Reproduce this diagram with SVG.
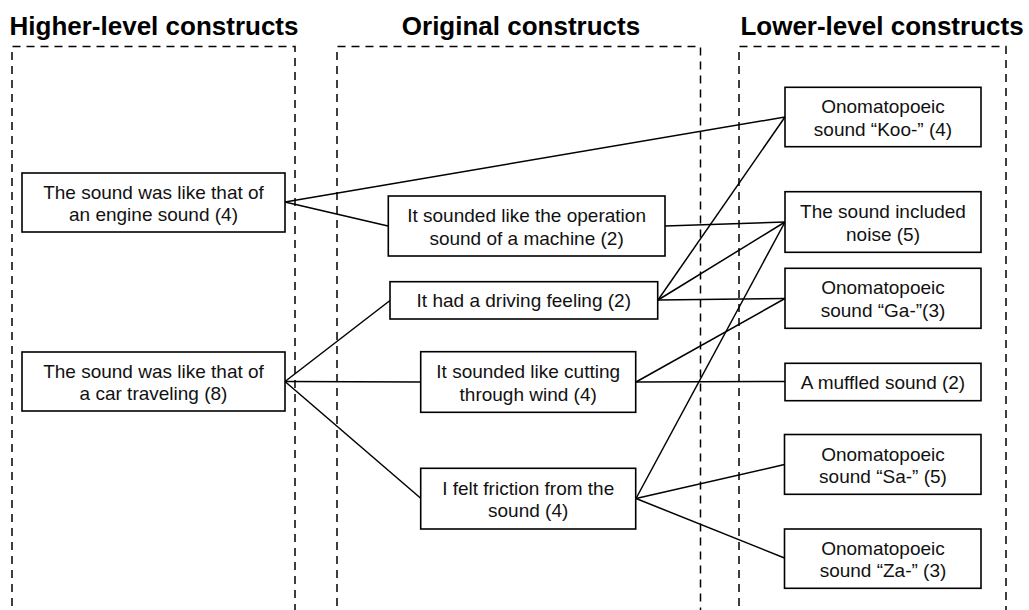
<svg xmlns="http://www.w3.org/2000/svg" width="1029" height="610" viewBox="0 0 1029 610">
<style>
.title{font-family:"Liberation Sans",Arial,sans-serif;font-weight:bold;font-size:26px;fill:#000;text-anchor:middle}
.t{font-family:"Liberation Sans",Arial,sans-serif;font-size:19px;fill:#111;text-anchor:middle}
.box{fill:#fff;stroke:#000;stroke-width:1.6}
.dash{fill:none;stroke:#000;stroke-width:1.5;stroke-dasharray:8,6}
.c{stroke:#000;stroke-width:1.5;fill:none}
</style>
<rect width="1029" height="610" fill="#fff"/>
<g id="columns">
<text class="title" x="154" y="35">Higher-level constructs</text>
<text class="title" x="521" y="35">Original constructs</text>
<text class="title" x="882" y="35">Lower-level constructs</text>
<path class="dash" d="M12,620 V46.5 H295 V620"/>
<path class="dash" d="M337,620 V46.5 H700.5 V620"/>
<path class="dash" d="M739,620 V46.5 H1006 V620"/>
</g>
<g id="connectors">
<line class="c" x1="285" y1="202" x2="785" y2="117"/>
<line class="c" x1="285" y1="202" x2="388" y2="226"/>
<line class="c" x1="285" y1="381.5" x2="390" y2="300.5"/>
<line class="c" x1="285" y1="381.5" x2="421" y2="382"/>
<line class="c" x1="285" y1="381.5" x2="421" y2="498.5"/>
<line class="c" x1="665" y1="226" x2="785" y2="222"/>
<line class="c" x1="658" y1="300" x2="785" y2="117"/>
<line class="c" x1="658" y1="300" x2="785" y2="222"/>
<line class="c" x1="658" y1="300" x2="785" y2="298.5"/>
<line class="c" x1="636" y1="382" x2="785" y2="298.5"/>
<line class="c" x1="636" y1="382" x2="785" y2="381.5"/>
<line class="c" x1="636" y1="498.5" x2="785" y2="222"/>
<line class="c" x1="636" y1="498.5" x2="784.5" y2="464.5"/>
<line class="c" x1="636" y1="498.5" x2="784.5" y2="558"/>
</g>
<g id="h1"><rect class="box" x="22" y="173" width="263" height="59"/>
<text class="t" x="153.5" y="198.5">The sound was like that of</text>
<text class="t" x="153.5" y="221">an engine sound (4)</text></g>
<g id="h2"><rect class="box" x="22" y="352" width="263" height="59"/>
<text class="t" x="153.5" y="377.5">The sound was like that of</text>
<text class="t" x="153.5" y="400">a car traveling (8)</text></g>
<g id="o1"><rect class="box" x="388.3" y="196" width="276.7" height="60"/>
<text class="t" x="526.6" y="222">It sounded like the operation</text>
<text class="t" x="526.6" y="244.5">sound of a machine (2)</text></g>
<g id="o2"><rect class="box" x="390" y="281.7" width="267.7" height="37.3"/>
<text class="t" x="523.8" y="307.3">It had a driving feeling (2)</text></g>
<g id="o3"><rect class="box" x="420.7" y="351.7" width="215" height="60.6"/>
<text class="t" x="528.2" y="378">It sounded like cutting</text>
<text class="t" x="528.2" y="400.5">through wind (4)</text></g>
<g id="o4"><rect class="box" x="420.7" y="468.3" width="215" height="60.7"/>
<text class="t" x="528.2" y="494.5">I felt friction from the</text>
<text class="t" x="528.2" y="517">sound (4)</text></g>
<g id="l1"><rect class="box" x="785" y="87.3" width="196" height="59.4"/>
<text class="t" x="883" y="113">Onomatopoeic</text>
<text class="t" x="883" y="135.5">sound “Koo-” (4)</text></g>
<g id="l2"><rect class="box" x="785" y="191.7" width="196" height="60.6"/>
<text class="t" x="883" y="218">The sound included</text>
<text class="t" x="883" y="240.5">noise (5)</text></g>
<g id="l3"><rect class="box" x="785" y="268.3" width="196" height="60"/>
<text class="t" x="883" y="294.3">Onomatopoeic</text>
<text class="t" x="883" y="316.8">sound “Ga-”(3)</text></g>
<g id="l4"><rect class="box" x="785" y="363.3" width="196" height="37.4"/>
<text class="t" x="883" y="389">A muffled sound (2)</text></g>
<g id="l5"><rect class="box" x="784.5" y="434.5" width="196.5" height="59.8"/>
<text class="t" x="883" y="460.5">Onomatopoeic</text>
<text class="t" x="883" y="483">sound “Sa-” (5)</text></g>
<g id="l6"><rect class="box" x="784.5" y="529" width="196.5" height="59.3"/>
<text class="t" x="883" y="554.7">Onomatopoeic</text>
<text class="t" x="883" y="577.2">sound “Za-” (3)</text></g>
</svg>
